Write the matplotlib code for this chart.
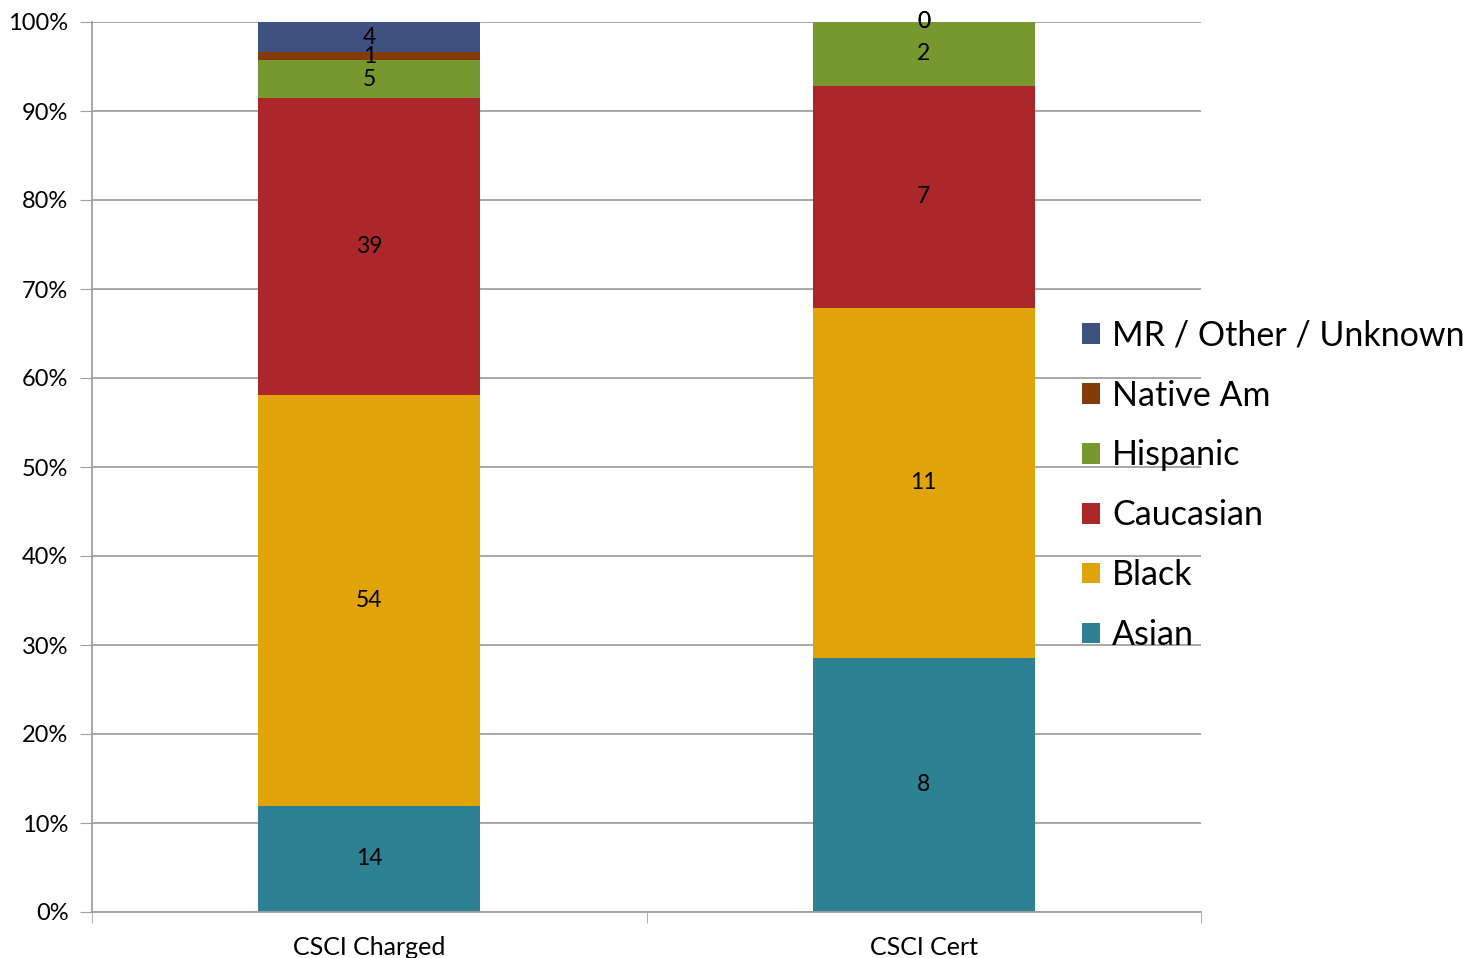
import numpy as np
import matplotlib
matplotlib.use("Agg")
import matplotlib.pyplot as plt
from matplotlib.ticker import FuncFormatter

# ── Data ──────────────────────────────────────────────────────────────────────
categories = ["CSC1 Charged", "CSC1 Cert"]
tick_labels = ["CSCI Charged", "CSCI Cert"]

series = ["Asian", "Black", "Caucasian", "Hispanic", "Native Am", "MR / Other / Unknown"]
asian     = [14, 8]
black     = [54, 11]
caucasian = [39, 7]
hispanic  = [5, 2]
native_am = [1, 0]
mr_other  = [4, 0]

colors = ["#2E8193", "#E1A30A", "#AC272A", "#77982E", "#853B09", "#3F5180"]

# ── Setup ─────────────────────────────────────────────────────────────────────
plt.rcParams["font.family"] = ["Lato", "DejaVu Sans"]

fig = plt.figure(figsize=(14.84, 9.58), dpi=100)
ax = fig.add_axes([92 / 1484, 46 / 958, 1109 / 1484, 890 / 958])

values = np.array([asian, black, caucasian, hispanic, native_am, mr_other], dtype=float)
totals = values.sum(axis=0)
pct = values / totals * 100

x = np.arange(len(categories))
bottom = np.zeros(len(categories))
for i, name in enumerate(series):
    ax.bar(x, pct[i], width=0.4, bottom=bottom, color=colors[i],
           label=name, zorder=2)
    for j in range(len(categories)):
        ax.text(x[j], bottom[j] + pct[i][j] / 2, f"{int(values[i][j])}",
                ha="center", va="center", fontsize=16.5, color="black", zorder=3)
    bottom += pct[i]

ax.set_xlim(-0.5, 1.5)
ax.set_ylim(0, 100)
ax.set_yticks(np.arange(0, 101, 10))
ax.yaxis.set_major_formatter(FuncFormatter(lambda v, p: f"{int(v)}%"))
ax.yaxis.grid(True, color="#A0A0A0", linewidth=1.3, zorder=0)
ax.set_axisbelow(True)

ax.set_xticks(x)
ax.set_xticklabels(tick_labels)
ax.set_xticks([-0.5, 0.5, 1.5], minor=True)
ax.tick_params(axis="x", which="major", length=0, labelsize=18, pad=17)
ax.tick_params(axis="x", which="minor", length=8, color="#A0A0A0")
ax.tick_params(axis="y", length=9, color="#A0A0A0", labelsize=17, pad=8)

for s in ["top", "right"]:
    ax.spines[s].set_visible(False)
for s in ["left", "bottom"]:
    ax.spines[s].set_color("#A0A0A0")
    ax.spines[s].set_linewidth(1.3)

handles, labels = ax.get_legend_handles_labels()
fig.legend(handles[::-1], labels[::-1], loc="upper left",
           bbox_to_anchor=(1068 / 1484, 1 - 306 / 958),
           frameon=False, fontsize=24.5, handlelength=0.55, handleheight=0.55,
           handletextpad=0.35, labelspacing=0.82, borderaxespad=0)

fig.savefig("out.png", dpi=100)
